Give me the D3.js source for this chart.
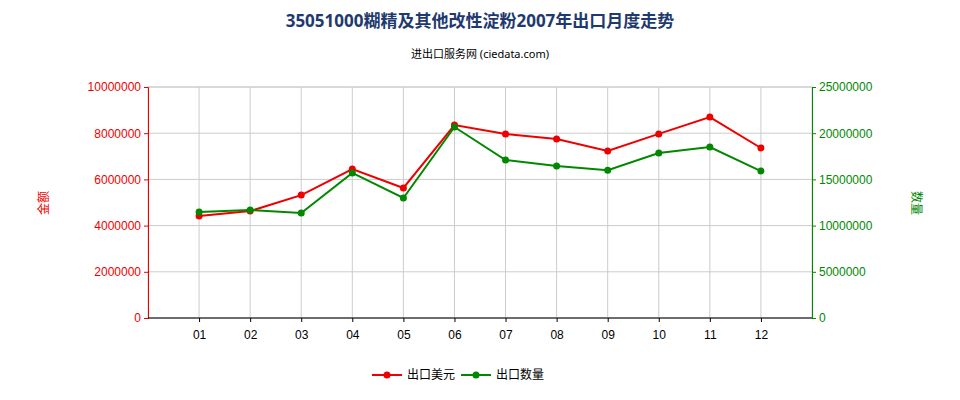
<!DOCTYPE html>
<html><head><meta charset="utf-8">
<script src="https://cdn.jsdelivr.net/npm/d3@7"></script>
<style>body{margin:0;background:#fff}svg{font-family:"Noto Sans","Noto Sans CJK SC",sans-serif}</style>
</head><body><svg id="c" width="960" height="400"></svg>
<script>
const months=["01","02","03","04","05","06","07","08","09","10","11","12"];
const valueUSD=[4420000,4630000,5320000,6450000,5630000,8350000,7970000,7750000,7230000,7970000,8700000,7360000];
const quantity=[11470000,11690000,11360000,15700000,12990000,20670000,17100000,16450000,16000000,17860000,18500000,15900000];
const leftTicks=[0,2000000,4000000,6000000,8000000,10000000];
const rightTicks=[0,5000000,10000000,15000000,20000000,25000000];
const svg=d3.select("#c");
const L=148,R=812,T=87,B=318;
const x=d3.scalePoint().domain(months).range([L,R]).padding(1);
const yl=d3.scaleLinear().domain([0,10000000]).range([B,T]);
const yr=d3.scaleLinear().domain([0,25000000]).range([B,T]);
const g=svg.append("g");
leftTicks.forEach(t=>g.append("line").attr("x1",L).attr("x2",R).attr("y1",yl(t)).attr("y2",yl(t)).attr("stroke","#ccc"));
months.forEach(m=>g.append("line").attr("x1",x(m)).attr("x2",x(m)).attr("y1",T).attr("y2",B).attr("stroke","#ccc"));
g.append("rect").attr("x",L).attr("y",T).attr("width",R-L).attr("height",B-T).attr("fill","none").attr("stroke","#ccc");
const al=svg.append("g").attr("transform",`translate(${L},0)`).call(d3.axisLeft(yl).tickValues(leftTicks).tickFormat(d3.format("d")).tickSize(4));
al.selectAll("text").attr("fill","#e00").style("font-size","12px");al.selectAll("line,path").attr("stroke","#e00");
const ar=svg.append("g").attr("transform",`translate(${R},0)`).call(d3.axisRight(yr).tickValues(rightTicks).tickFormat(d3.format("d")).tickSize(4));
ar.selectAll("text").attr("fill","#080").style("font-size","12px");ar.selectAll("line,path").attr("stroke","#080");
const ab=svg.append("g").attr("transform",`translate(0,${B})`).call(d3.axisBottom(x).tickSize(4));
ab.selectAll("text").attr("fill","#000").style("font-size","12px").attr("dy","1.2em");ab.select("path").attr("d",`M${L},0H${R}`).attr("stroke","#000");
function series(data,y,c){
 svg.append("path").datum(data).attr("fill","none").attr("stroke",c).attr("stroke-width",2)
  .attr("d",d3.line().x((d,i)=>x(months[i])).y(d=>y(d)));
 svg.selectAll(null).data(data).enter().append("circle").attr("cx",(d,i)=>x(months[i])).attr("cy",d=>y(d)).attr("r",3.5).attr("fill",c);
}
series(valueUSD,yl,"#e00");series(quantity,yr,"#080");
svg.append("text").attr("x",480).attr("y",27).attr("text-anchor","middle").style("font-size","17px").style("font-weight","bold").attr("fill","#1f3a6e").text("35051000糊精及其他改性淀粉2007年出口月度走势");
svg.append("text").attr("x",480).attr("y",58).attr("text-anchor","middle").style("font-size","11px").attr("fill","#000").text("进出口服务网 (ciedata.com)");
svg.append("text").attr("transform","translate(48,203) rotate(-90)").attr("text-anchor","middle").style("font-size","12px").attr("fill","#e00").text("金额");
svg.append("text").attr("transform","translate(912,203) rotate(90)").attr("text-anchor","middle").style("font-size","12px").attr("fill","#080").text("数量");
const lg=[["出口美元","#e00",398],["出口数量","#080",487]];
lg.forEach(([t,c,lx])=>{svg.append("line").attr("x1",lx-26).attr("x2",lx+4).attr("y1",375).attr("y2",375).attr("stroke",c).attr("stroke-width",2);
svg.append("circle").attr("cx",lx-11).attr("cy",375).attr("r",3.5).attr("fill",c);
svg.append("text").attr("x",lx+9).attr("y",379).style("font-size","12px").text(t);});
</script></body></html>
